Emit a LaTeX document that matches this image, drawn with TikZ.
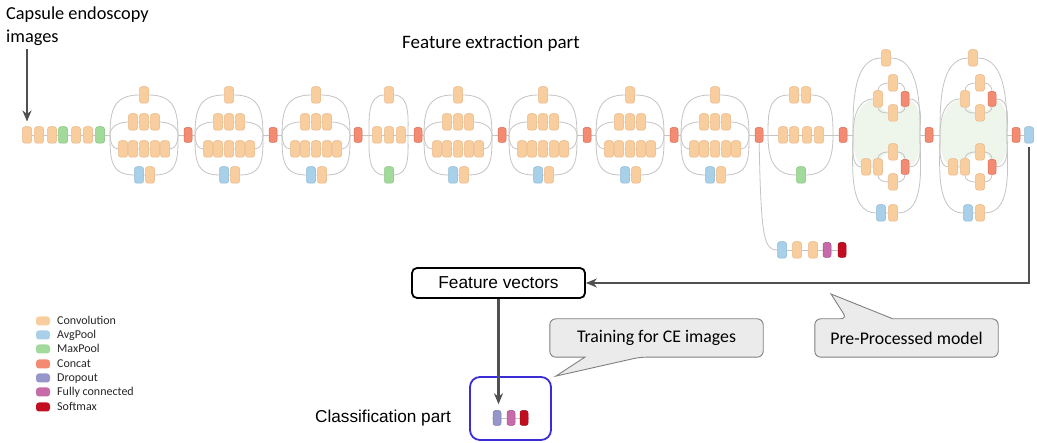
\documentclass[tikz,border=0pt]{standalone}
\usepackage{fontspec}
\setmainfont{Carlito}
\newfontfamily\arialf{Liberation Sans}
\usetikzlibrary{arrows.meta,calc}
\pgfdeclarelayer{bgfill}
\pgfdeclarelayer{bglines}
\pgfsetlayers{bgfill,bglines,main}
\definecolor{cvc}{HTML}{F9CE9E}\definecolor{cvd}{HTML}{E9B584}
\definecolor{apc}{HTML}{A8D0E8}\definecolor{apd}{HTML}{8CB8D4}
\definecolor{mpc}{HTML}{A2DA9B}\definecolor{mpd}{HTML}{84C27C}
\definecolor{ccc}{HTML}{F38A72}\definecolor{ccd}{HTML}{DD6E57}
\definecolor{dpc}{HTML}{9696CA}\definecolor{dpd}{HTML}{7C7CB3}
\definecolor{fcc}{HTML}{C76AAA}\definecolor{fcd}{HTML}{A9508D}
\definecolor{smc}{HTML}{C20F1F}\definecolor{smd}{HTML}{9C0A16}
\definecolor{lnc}{HTML}{C4C4C4}
\definecolor{grfill}{HTML}{EEF5EA}
\definecolor{calfill}{HTML}{EBEBEB}
\definecolor{caldraw}{HTML}{808080}
\definecolor{arrc}{HTML}{505050}
\definecolor{clsc}{HTML}{3A2CD6}
\definecolor{lgtext}{HTML}{262626}

% Inception A/B style block: name, centre x
\newcommand\mkIncAB[2]{%
  \node[cv] (#1t) at (#2,95) {};
  \foreach \i/\dx in {1/-11,2/0,3/11}{\node[cv] (#1p\i) at (#2+\dx,122) {};}
  \foreach \i/\dx in {1/-21,2/-11,3/0,4/11,5/21}{\node[cv] (#1q\i) at (#2+\dx,149) {};}
  \node[ap] (#1b1) at (#2-5,175) {};
  \node[cv] (#1b2) at (#2+6,175) {};
  \coordinate (#1in) at (#2-34,135);
  \coordinate (#1out) at (#2+34,135);
  \begin{pgfonlayer}{bglines}
    \draw[ln] (#1in) to[out=90,in=180,looseness=1.3] (#1t) to[out=0,in=90,looseness=1.3] (#1out);
    \draw[ln] (#1in) to[out=90,in=180] (#1p1) -- (#1p3) to[out=0,in=90] (#1out);
    \draw[ln] (#1in) to[out=-90,in=180] (#1q1) -- (#1q5) to[out=0,in=-90] (#1out);
    \draw[ln] (#1in) to[out=-90,in=180,looseness=1.3] (#1b1) -- (#1b2) to[out=0,in=-90,looseness=1.3] (#1out);
  \end{pgfonlayer}}

% Reduction A
\newcommand\mkRedA[2]{%
  \node[cv] (#1t) at (#2,95) {};
  \node[cv] (#1m1) at (#2-12,135) {};
  \node[cv] (#1m2) at (#2,135) {};
  \node[cv] (#1m3) at (#2+12,135) {};
  \node[mp] (#1g) at (#2,175) {};
  \coordinate (#1in) at (#2-20,135);
  \coordinate (#1out) at (#2+19,135);
  \begin{pgfonlayer}{bglines}
    \draw[ln] (#1in) to[out=90,in=180] (#1t) to[out=0,in=90] (#1out);
    \draw[ln] (#1in) -- (#1m1) -- (#1m3) -- (#1out);
    \draw[ln] (#1in) to[out=-90,in=180] (#1g) to[out=0,in=-90] (#1out);
  \end{pgfonlayer}}

% Reduction B
\newcommand\mkRedB[2]{%
  \node[cv] (#1t1) at (#2-7,95) {};
  \node[cv] (#1t2) at (#2+5,95) {};
  \foreach \i/\dx in {1/-18,2/-7,3/6,4/18}{\node[cv] (#1m\i) at (#2+\dx,135) {};}
  \node[mp] (#1g) at (#2,175) {};
  \coordinate (#1in) at (#2-33,135);
  \coordinate (#1out) at (#2+32,135);
  \begin{pgfonlayer}{bglines}
    \draw[ln] (#1in) to[out=90,in=180,looseness=1.2] (#1t1) -- (#1t2) to[out=0,in=90,looseness=1.2] (#1out);
    \draw[ln] (#1in) -- (#1m1) -- (#1m4) -- (#1out);
    \draw[ln] (#1in) to[out=-90,in=180,looseness=1.2] (#1g) to[out=0,in=-90,looseness=1.2] (#1out);
  \end{pgfonlayer}}

% Inception C style block: name, left x
\newcommand\mkIncC[2]{%
  \node[cv] (#1t) at (#2+33,58) {};
  \node[cv] (#1u1) at (#2+25,99) {};
  \node[cv] (#1ut) at (#2+40,83) {};
  \node[cv] (#1ub) at (#2+40,113) {};
  \node[cc] (#1ur) at (#2+52,99) {};
  \node[cv] (#1l0) at (#2+13,167) {};
  \node[cv] (#1l1) at (#2+25,167) {};
  \node[cv] (#1lt) at (#2+40,152) {};
  \node[cv] (#1lb) at (#2+40,182) {};
  \node[cc] (#1lr) at (#2+52,167) {};
  \node[ap] (#1b1) at (#2+28,213) {};
  \node[cv] (#1b2) at (#2+40,213) {};
  \coordinate (#1in) at (#2,135);
  \coordinate (#1out) at (#2+67,135);
  \begin{pgfonlayer}{bgfill}
    \fill[grfill] (#1in) to[out=90,in=180] (#1u1.center) to[out=-90,in=180] (#1ub.center)
      to[out=0,in=-90] (#1ur.center) to[out=0,in=90] (#1out) to[out=-90,in=0] (#1lr.center)
      to[out=90,in=0] (#1lt.center) to[out=180,in=90] (#1l1.center) -- (#1l0.center)
      to[out=180,in=-90,looseness=0.8] (#1in) -- cycle;
  \end{pgfonlayer}
  \begin{pgfonlayer}{bglines}
    \draw[ln] (#1in) to[out=90,in=180,looseness=0.9] (#1t) to[out=0,in=90,looseness=0.9] (#1out);
    \draw[ln] (#1in) to[out=-90,in=180,looseness=0.9] (#1b1) -- (#1b2) to[out=0,in=-90,looseness=0.9] (#1out);
    \draw[ln] (#1in) to[out=90,in=180] (#1u1);
    \draw[ln] (#1u1) to[out=90,in=180] (#1ut) to[out=0,in=90] (#1ur);
    \draw[ln] (#1u1) to[out=-90,in=180] (#1ub) to[out=0,in=-90] (#1ur);
    \draw[ln] (#1ur) to[out=0,in=90] (#1out);
    \draw[ln] (#1in) to[out=-90,in=180,looseness=0.8] (#1l0) -- (#1l1);
    \draw[ln] (#1l1) to[out=90,in=180] (#1lt) to[out=0,in=90] (#1lr);
    \draw[ln] (#1l1) to[out=-90,in=180] (#1lb) to[out=0,in=-90] (#1lr);
    \draw[ln] (#1lr) to[out=0,in=-90] (#1out);
  \end{pgfonlayer}}

\begin{document}
\begin{tikzpicture}[x=1pt,y=-1pt,
  blk/.style={rectangle,rounded corners=2.5pt,minimum width=9pt,minimum height=16.5pt,inner sep=0pt,line width=0.5pt},
  cv/.style={blk,fill=cvc,draw=cvd},
  ap/.style={blk,fill=apc,draw=apd},
  mp/.style={blk,fill=mpc,draw=mpd},
  cc/.style={blk,fill=ccc,draw=ccd,minimum width=8pt,minimum height=15pt},
  dp/.style={blk,fill=dpc,draw=dpd,minimum width=8pt,minimum height=15pt},
  fc/.style={blk,fill=fcc,draw=fcd,minimum width=8pt,minimum height=15pt},
  sm/.style={blk,fill=smc,draw=smd,minimum width=8pt,minimum height=15pt},
  ln/.style={draw=lnc,line width=0.8pt},
  arr/.style={draw=arrc,line width=2.1pt,-{Stealth[length=11pt,width=9pt]}},
  lgsw/.style={rectangle,rounded corners=3pt,minimum width=14pt,minimum height=9pt,inner sep=0pt},
  lgtx/.style={anchor=base west,inner sep=0pt,text=lgtext,font=\fontsize{12}{14}\selectfont},
  calbox/.style={fill=calfill,draw=caldraw,line width=0.9pt},
  caltext/.style={inner sep=0pt,minimum height=38pt,font=\fontsize{17.8}{21}\selectfont},
  bigtext/.style={inner sep=0pt,anchor=base west,font=\fontsize{18.3}{22}\selectfont}]

\useasboundingbox (0,0) rectangle (1037,443);
\begin{pgfonlayer}{bgfill}
  \fill[white] (0,0) rectangle (1037,443);
\end{pgfonlayer}

% titles
\node[bigtext] (cap1) at (6,20) {Capsule endoscopy};
\node[bigtext] (cap2) at (6,43) {images};
\node[bigtext,font=\fontsize{19}{23}\selectfont] (title) at (402,49) {Feature extraction part};

% stem
\node[cv] (s1) at (27,135) {};
\node[cv] (s2) at (39,135) {};
\node[cv] (s3) at (52,135) {};
\node[mp] (s4) at (63,135) {};
\node[cv] (s5) at (76,135) {};
\node[cv] (s6) at (88,135) {};
\node[mp] (s7) at (100,135) {};

\mkIncAB{A1}{144}
\node[cc] (cc1) at (188,135) {};
\mkIncAB{A2}{229}
\node[cc] (cc2) at (273,135) {};
\mkIncAB{A3}{316}
\node[cc] (cc3) at (358,135) {};
\mkRedA{R1}{389}
\node[cc] (cc4) at (418,135) {};
\mkIncAB{B1}{458}
\node[cc] (cc5) at (502,135) {};
\mkIncAB{B2}{543}
\node[cc] (cc6) at (587,135) {};
\mkIncAB{B3}{630}
\node[cc] (cc7) at (674,135) {};
\mkIncAB{B4}{715}
\node[cc] (cc8) at (759,135) {};
\mkRedB{R2}{801}
\node[cc] (cc9) at (843,135) {};
\mkIncC{C1}{853}
\node[cc] (cc10) at (929,135) {};
\mkIncC{C2}{940}
\node[cc] (cc11) at (1016,135) {};
\node[ap] (fb) at (1029,135) {};

% auxiliary head
\node[ap] (x1) at (782,250) {};
\node[cv] (x2) at (797,250) {};
\node[cv] (x3) at (813,250) {};
\node[fc] (x4) at (827,250) {};
\node[sm] (x5) at (842,250) {};

\begin{pgfonlayer}{bglines}
  \draw[ln] (s1) -- (s2) -- (s3) -- (s4) -- (s5) -- (s6) -- (s7) -- (A1in);
  \draw[ln] (A1out) -- (cc1) -- (A2in);
  \draw[ln] (A2out) -- (cc2) -- (A3in);
  \draw[ln] (A3out) -- (cc3) -- (R1in);
  \draw[ln] (R1out) -- (cc4) -- (B1in);
  \draw[ln] (B1out) -- (cc5) -- (B2in);
  \draw[ln] (B2out) -- (cc6) -- (B3in);
  \draw[ln] (B3out) -- (cc7) -- (B4in);
  \draw[ln] (B4out) -- (cc8) -- (R2in);
  \draw[ln] (R2out) -- (cc9) -- (C1in);
  \draw[ln] (C1out) -- (cc10) -- (C2in);
  \draw[ln] (C2out) -- (cc11) -- (fb);
  \draw[ln] (cc8) .. controls (761,238) and (764,250) .. (x1);
  \draw[ln] (x1) -- (x2) -- (x3) -- (x4) -- (x5);
\end{pgfonlayer}

% input arrow
\draw[arr,shorten <=3pt,shorten >=5pt] (s1.north |- cap2.south) -- (s1.north);

% feature vectors and classification
\node[draw=black,line width=1.8pt,rounded corners=5pt,minimum width=173pt,minimum height=30pt,inner sep=0pt,
      font=\arialf\fontsize{17.3}{20}\selectfont] (fv) at (498.5,283) {Feature vectors};
\node[draw=clsc,line width=1.8pt,rounded corners=10pt,minimum width=81pt,minimum height=63pt,inner sep=0pt] (cls) at (510.5,408.5) {};
\node[dp] (k1) at (497,418) {};
\node[fc] (k2) at (511,418) {};
\node[sm] (k3) at (524,418) {};
\begin{pgfonlayer}{bglines}
  \draw[ln] ($(k1)+(-5,0)$) -- (k1) -- (k2) -- (k3) -- ($(k3)+(5,0)$);
\end{pgfonlayer}
\node[anchor=east,inner sep=0pt,font=\arialf\fontsize{17.2}{20}\selectfont] (clst) at ([xshift=-18pt]cls.west |- k1) {Classification part};

\draw[arr,shorten <=4pt] (fb.south) |- (fv.east);
\draw[arr,shorten >=6pt] (fv.south) -- (fv.south |- k1.north);

% callouts
\node[caltext,minimum width=213pt] (tr) at (656.5,338) {Training for CE images};
\node[caltext,minimum width=183pt] (pp) at (906.5,338) {Pre-Processed model};
\coordinate (pptip) at (831,294);
\begin{pgfonlayer}{bgfill}
  \path[calbox] (tr.west) [rounded corners=6pt] |- (tr.north east) |- ($(tr.south west)+(90,0)$)
     [sharp corners] -- ($(cls.north east)+(4,0)$) -- ($(tr.south west)+(35,0)$)
     [rounded corners=6pt] -| (tr.west) -- cycle;
  \path[calbox] (pp.west) [rounded corners=6pt] |- ($(pp.north west)+(32,0)$)
     [sharp corners] -- (pptip) -- ($(pp.north west)+(78,0)$)
     [rounded corners=6pt] -| (pp.east) |- (pp.south west) -- cycle;
\end{pgfonlayer}

% legend
\node[lgsw,fill=cvc] (lg1) at (43,321) {};
\node[lgsw,fill=apc] (lg2) at (43,335) {};
\node[lgsw,fill=mpc] (lg3) at (43,349) {};
\node[lgsw,fill=ccc] (lg4) at (43,364) {};
\node[lgsw,fill=dpc] (lg5) at (43,378) {};
\node[lgsw,fill=fcc] (lg6) at (43,392) {};
\node[lgsw,fill=smc] (lg7) at (43,407) {};
\node[lgtx] (lt1) at (57,325) {Convolution};
\node[lgtx] (lt2) at (57,339) {AvgPool};
\node[lgtx] (lt3) at (57,353) {MaxPool};
\node[lgtx] (lt4) at (57,368) {Concat};
\node[lgtx] (lt5) at (57,382) {Dropout};
\node[lgtx] (lt6) at (57,396) {Fully connected};
\node[lgtx] (lt7) at (57,411) {Softmax};
\end{tikzpicture}
\end{document}
